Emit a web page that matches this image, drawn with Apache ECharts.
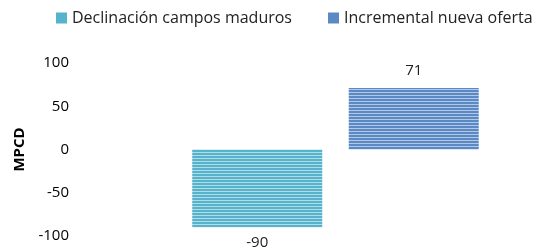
<!DOCTYPE html>
<html><head><meta charset="utf-8">
<script src="https://cdn.jsdelivr.net/npm/echarts@6/dist/echarts.min.js"></script>
<style>html,body{margin:0;padding:0;background:#fff}#c{width:545px;height:248px}</style>
</head><body><div id="c"></div>
<script>
var categories = ['Declinación campos maduros', 'Incremental nueva oferta'];
var seriesNames = ['Declinación campos maduros', 'Incremental nueva oferta'];
var declinacion = [-90, '-'];
var incremental = ['-', 71];
var yTicks = [-100, -50, 0, 50, 100];

function stripes(base, light) {
  var cv = document.createElement('canvas');
  cv.width = 4; cv.height = 3;
  var ctx = cv.getContext('2d');
  ctx.fillStyle = base; ctx.fillRect(0, 0, 4, 3);
  ctx.fillStyle = light; ctx.fillRect(0, 2, 4, 1);
  return { image: cv, repeat: 'repeat' };
}
var c1 = '#55b3cc', c1l = '#b2dce8';
var c2 = '#5b89c4', c2l = '#b3c8e6';
var font = 'Open Sans';

var chart = echarts.init(document.getElementById('c'));
chart.setOption({
  animation: false,
  textStyle: { fontFamily: font },
  legend: {
    top: 5, left: 51, itemWidth: 11, itemHeight: 11, itemGap: 36,
    icon: 'rect',
    textStyle: { fontSize: 16, color: '#222', fontFamily: font },
    data: [
      { name: seriesNames[0], itemStyle: { color: c1 } },
      { name: seriesNames[1], itemStyle: { color: c2 } }
    ]
  },
  grid: { left: 179, right: 53, top: 63, bottom: 12 },
  xAxis: {
    type: 'category', data: categories,
    axisLine: { show: false }, axisTick: { show: false }, axisLabel: { show: false }
  },
  yAxis: {
    type: 'value', min: yTicks[0], max: yTicks[yTicks.length - 1], interval: 50,
    name: 'MPCD', nameLocation: 'middle', nameRotate: 90, nameGap: 151,
    nameTextStyle: { fontSize: 15, fontWeight: 'bold', color: '#000', fontFamily: font },
    axisLine: { show: false }, axisTick: { show: false }, splitLine: { show: false },
    axisLabel: { fontSize: 15, color: '#000', margin: 110, fontFamily: font }
  },
  series: [
    {
      name: seriesNames[0], type: 'bar', stack: 't', barWidth: 130,
      data: declinacion.map(function (v) { return v === '-' ? v : { value: v, label: { show: true, position: v < 0 ? 'bottom' : 'top' } }; }),
      itemStyle: { color: stripes(c1, c1l) },
      label: { distance: 8, fontSize: 15, color: '#222', fontFamily: font }
    },
    {
      name: seriesNames[1], type: 'bar', stack: 't', barWidth: 130,
      data: incremental.map(function (v) { return v === '-' ? v : { value: v, label: { show: true, position: v < 0 ? 'bottom' : 'top' } }; }),
      itemStyle: { color: stripes(c2, c2l) },
      label: { distance: 10, fontSize: 15, color: '#222', fontFamily: font }
    }
  ]
});
</script></body></html>
